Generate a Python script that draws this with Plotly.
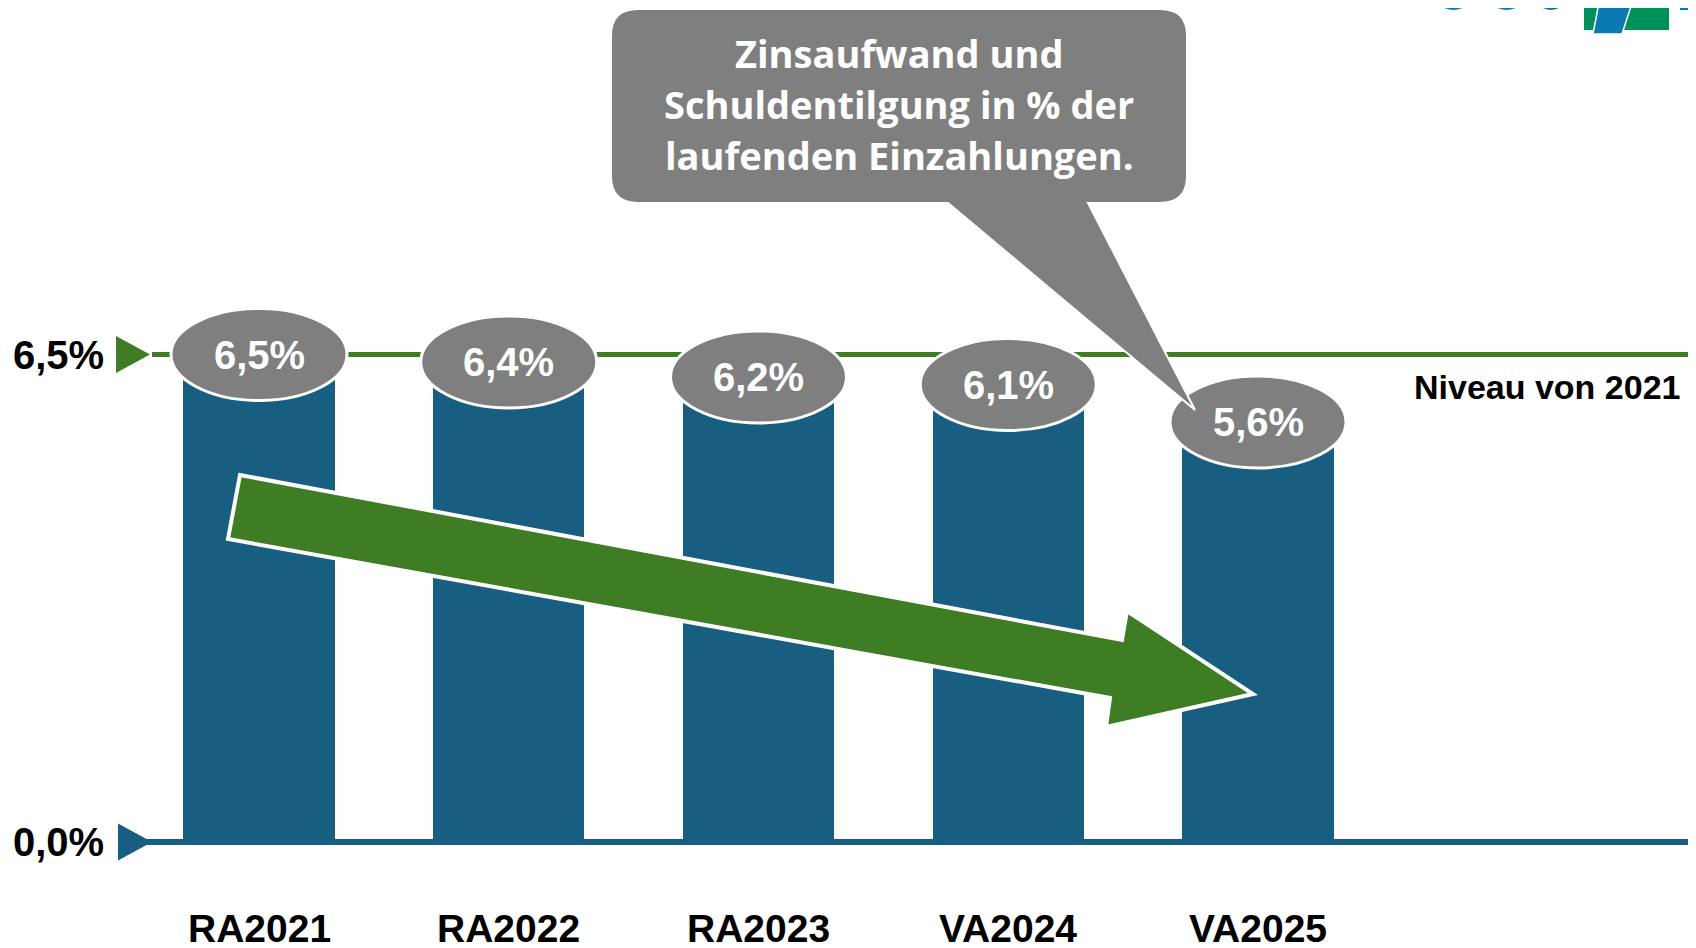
import plotly.graph_objects as go

# ---------------- data ----------------
categories = ["RA2021", "RA2022", "RA2023", "VA2024", "VA2025"]
values = [6.5, 6.4, 6.2, 6.1, 5.6]
reference_level = 6.5
reference_label = "Niveau von 2021"
y_tick_vals = [0.0, 6.5]
y_tick_labels = ["0,0%", "6,5%"]
callout_lines = ["Zinsaufwand und", "Schuldentilgung in % der", "laufenden Einzahlungen."]

# ---------------- style ----------------
W, H = 1696, 948
OFF = 8  # page body margin offset
BLUE = "#175E80"
GREEN = "#3E7D23"
GRAY = "#7F7F7F"
LOGO_BLUE = "#0B7AB3"
LOGO_GREEN = "#00915B"
ARIAL = "Liberation Sans, Arial, sans-serif"
CALLOUT_FONT = "Open Sans, Lato, sans-serif"


def px(x):
    return (x - OFF) / W


def py(y):
    return 1 - (y - OFF) / H


def ppath(points, close=True):
    s = "M " + " L ".join(f"{px(x):.5f},{py(y):.5f}" for x, y in points)
    return s + (" Z" if close else "")


xpos = list(range(len(categories)))
labels = [f"{v:.1f}".replace(".", ",") + "%" for v in values]

fig = go.Figure()
fig.add_trace(go.Bar(
    x=xpos, y=values, width=0.605,
    marker=dict(color=BLUE, line=dict(width=0)),
    hoverinfo="skip", showlegend=False,
))

shapes = []
# baseline (0 level)
shapes.append(dict(type="line", xref="paper", yref="y", x0=px(145), x1=px(1690),
                   y0=y_tick_vals[0], y1=y_tick_vals[0],
                   line=dict(color=BLUE, width=6), layer="above"))
# reference level line
shapes.append(dict(type="line", xref="paper", yref="y", x0=px(152), x1=px(1689),
                   y0=reference_level, y1=reference_level,
                   line=dict(color=GREEN, width=5), layer="above"))
# triangle markers on the left
for yv, col, cx in [(y_tick_vals[1], GREEN, 133), (y_tick_vals[0], BLUE, 135)]:
    shapes.append(dict(type="path", xref="paper", yref="y", xsizemode="pixel", ysizemode="pixel",
                       xanchor=px(cx), yanchor=yv, path="M -17,18.5 L 17,0 L -17,-18.5 Z",
                       fillcolor=col, line=dict(width=0), layer="above"))
# ellipses on top of the bars
for i, v in zip(xpos, values):
    shapes.append(dict(type="circle", xref="x", yref="y", xsizemode="pixel", ysizemode="pixel",
                       xanchor=i, yanchor=v, x0=-88, x1=88, y0=-46, y1=46,
                       fillcolor=GRAY, line=dict(color="white", width=3), layer="above"))
# big green trend arrow
arrow_pts = [(240, 475), (1122, 640), (1127, 611), (1253, 694), (1106, 727), (1110, 698), (228, 539)]
shapes.append(dict(type="path", xref="paper", yref="paper", path=ppath(arrow_pts),
                   fillcolor=GREEN, line=dict(color="white", width=4), layer="above"))
# speech-bubble callout
L, R, T, B, r = 611, 1187, 9, 203, 27
bubble = (
    f"M {px(L + r):.5f},{py(T):.5f} L {px(R - r):.5f},{py(T):.5f} "
    f"Q {px(R):.5f},{py(T):.5f} {px(R):.5f},{py(T + r):.5f} "
    f"L {px(R):.5f},{py(B - r):.5f} Q {px(R):.5f},{py(B):.5f} {px(R - r):.5f},{py(B):.5f} "
    f"L {px(1088):.5f},{py(B):.5f} L {px(1195):.5f},{py(410):.5f} L {px(948):.5f},{py(B):.5f} "
    f"L {px(L + r):.5f},{py(B):.5f} Q {px(L):.5f},{py(B):.5f} {px(L):.5f},{py(B - r):.5f} "
    f"L {px(L):.5f},{py(T + r):.5f} Q {px(L):.5f},{py(T):.5f} {px(L + r):.5f},{py(T):.5f} Z"
)
shapes.append(dict(type="path", xref="paper", yref="paper", path=bubble,
                   fillcolor=GRAY, line=dict(color="white", width=2), layer="above"))
# partial logo at the top right
for x0, x1 in [(1432, 1475), (1485, 1528), (1532, 1570)]:
    shapes.append(dict(type="circle", xref="paper", yref="paper", x0=px(x0), x1=px(x1),
                       y0=py(10), y1=py(-33), fillcolor=LOGO_BLUE, line=dict(width=0), layer="above"))
shapes.append(dict(type="rect", xref="paper", yref="paper", x0=px(1584), x1=px(1669),
                   y0=py(30), y1=py(-5), fillcolor=LOGO_GREEN, line=dict(width=0), layer="above"))
shapes.append(dict(type="path", xref="paper", yref="paper",
                   path=ppath([(1600, -3), (1634, -3), (1622, 34), (1593, 34)]),
                   fillcolor=LOGO_BLUE, line=dict(color="white", width=1.5), layer="above"))
shapes.append(dict(type="rect", xref="paper", yref="paper", x0=px(1680), x1=px(1700),
                   y0=py(10), y1=py(-5), fillcolor=LOGO_BLUE, line=dict(width=0), layer="above"))

annotations = []
# value labels in ellipses
for i, v, t in zip(xpos, values, labels):
    annotations.append(dict(x=i, y=v, xref="x", yref="y", text=t, showarrow=False,
                            xanchor="center", yanchor="middle",
                            font=dict(family=ARIAL, size=40, color="white", weight="bold")))
# y labels
for yv, t in zip(y_tick_vals, y_tick_labels):
    annotations.append(dict(x=px(106), y=yv, xref="paper", yref="y", text=t, showarrow=False,
                            xanchor="right", yanchor="middle",
                            font=dict(family=ARIAL, size=40, color="black", weight="bold")))
# category labels
for i, c in zip(xpos, categories):
    annotations.append(dict(x=i, y=py(928), xref="x", yref="paper", text=c, showarrow=False,
                            xanchor="center", yanchor="middle",
                            font=dict(family=ARIAL, size=39, color="black", weight="bold")))
# reference label
annotations.append(dict(x=px(1682), y=reference_level, xref="paper", yref="y", yshift=-32,
                        text=reference_label, showarrow=False, xanchor="right", yanchor="middle",
                        font=dict(family=ARIAL, size=34, color="black", weight="bold")))
# callout text
for t, yc in zip(callout_lines, [53, 104, 155]):
    annotations.append(dict(x=px(899), y=py(yc), xref="paper", yref="paper", text=t, showarrow=False,
                            xanchor="center", yanchor="middle",
                            font=dict(family=CALLOUT_FONT, size=38, color="white", weight="bold")))

ppu = 75.0
zero_px = 842 - OFF
xc0 = 259 - OFF
step = 249.75
fig.update_layout(
    width=W, height=H,
    margin=dict(l=0, r=0, t=0, b=0),
    paper_bgcolor="white", plot_bgcolor="white",
    xaxis=dict(range=[-xc0 / step, (W - xc0) / step], visible=False, fixedrange=True),
    yaxis=dict(range=[-(H - zero_px) / ppu, zero_px / ppu], visible=False, fixedrange=True),
    shapes=shapes, annotations=annotations, showlegend=False,
    bargap=0,
)

fig.write_html("out.html")
